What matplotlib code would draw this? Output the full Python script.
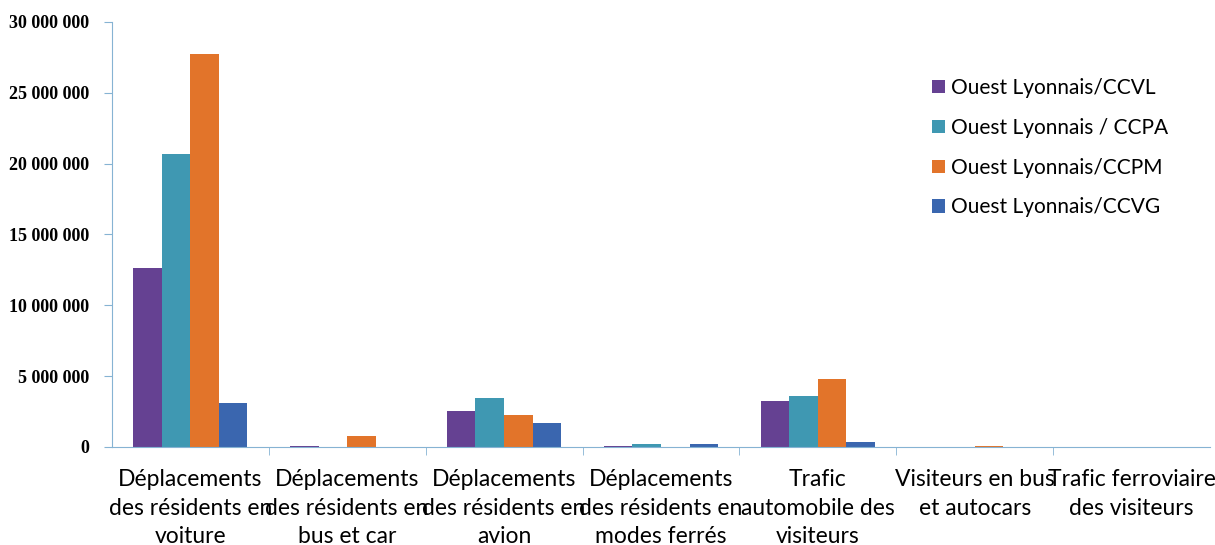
import numpy as np
import matplotlib.pyplot as plt
from matplotlib.ticker import FuncFormatter, FixedLocator

categories = ["Déplacements\ndes résidents en\nvoiture",
              "Déplacements\ndes résidents en\nbus et car",
              "Déplacements\ndes résidents en\navion",
              "Déplacements\ndes résidents en\nmodes ferrés",
              "Trafic\nautomobile des\nvisiteurs",
              "Visiteurs en bus\net autocars",
              "Trafic ferroviaire\ndes visiteurs"]

series = ["Ouest Lyonnais/CCVL", "Ouest Lyonnais / CCPA",
          "Ouest Lyonnais/CCPM", "Ouest Lyonnais/CCVG"]

ccvl = [12650000, 60000, 2500000, 50000, 3250000, 0, 0]
ccpa = [20650000, 0, 3450000, 200000, 3600000, 0, 0]
ccpm = [27700000, 800000, 2250000, 0, 4800000, 60000, 0]
ccvg = [3100000, 0, 1700000, 200000, 350000, 0, 0]

colors = ["#654192", "#3F98B2", "#E2742A", "#3A66AF"]
axis_col = "#86B3D3"

fig = plt.figure(figsize=(12.15, 5.45), dpi=100)
ax = fig.add_axes([0.092, 0.18, 0.904, 0.78])

x = np.arange(len(categories))
w = 0.182
for i, (vals, c, name) in enumerate(zip([ccvl, ccpa, ccpm, ccvg], colors, series)):
    ax.bar(x + (i - 1.5) * w, vals, w, color=c, label=name, linewidth=0)

ax.set_xlim(-0.5, len(categories) - 0.5)
ax.set_ylim(0, 30000000)
ax.set_yticks(np.arange(0, 30000001, 5000000))
ax.yaxis.set_major_formatter(FuncFormatter(lambda v, p: f"{int(v):,}".replace(",", " ")))
for lab in ax.get_yticklabels():
    lab.set_fontfamily("Liberation Serif")
    lab.set_fontweight("bold")
    lab.set_fontsize(13)

# category labels run close to the bottom edge
ax.set_xticks(x)
ax.set_xticklabels(categories, fontsize=16.5, family="Lato",
                   linespacing=1.45, va="top")
ax.tick_params(axis="x", which="major", length=0, pad=16)
ax.xaxis.set_minor_locator(FixedLocator(np.arange(0.5, len(categories) - 0.5, 1.0)))
ax.tick_params(axis="x", which="minor", length=6, color=axis_col, direction="out")
ax.tick_params(axis="y", length=6, color=axis_col, pad=10)

for side in ["top", "right"]:
    ax.spines[side].set_visible(False)
ax.spines["left"].set_color(axis_col)
ax.spines["bottom"].set_color(axis_col)

leg = ax.legend(loc="upper left", bbox_to_anchor=(0.73, 0.912), frameon=False,
                prop={"family": "Lato", "size": 15}, handlelength=0.6, handleheight=0.6,
                handletextpad=0.3, labelspacing=0.95)

plt.savefig("out.png", dpi=100)
